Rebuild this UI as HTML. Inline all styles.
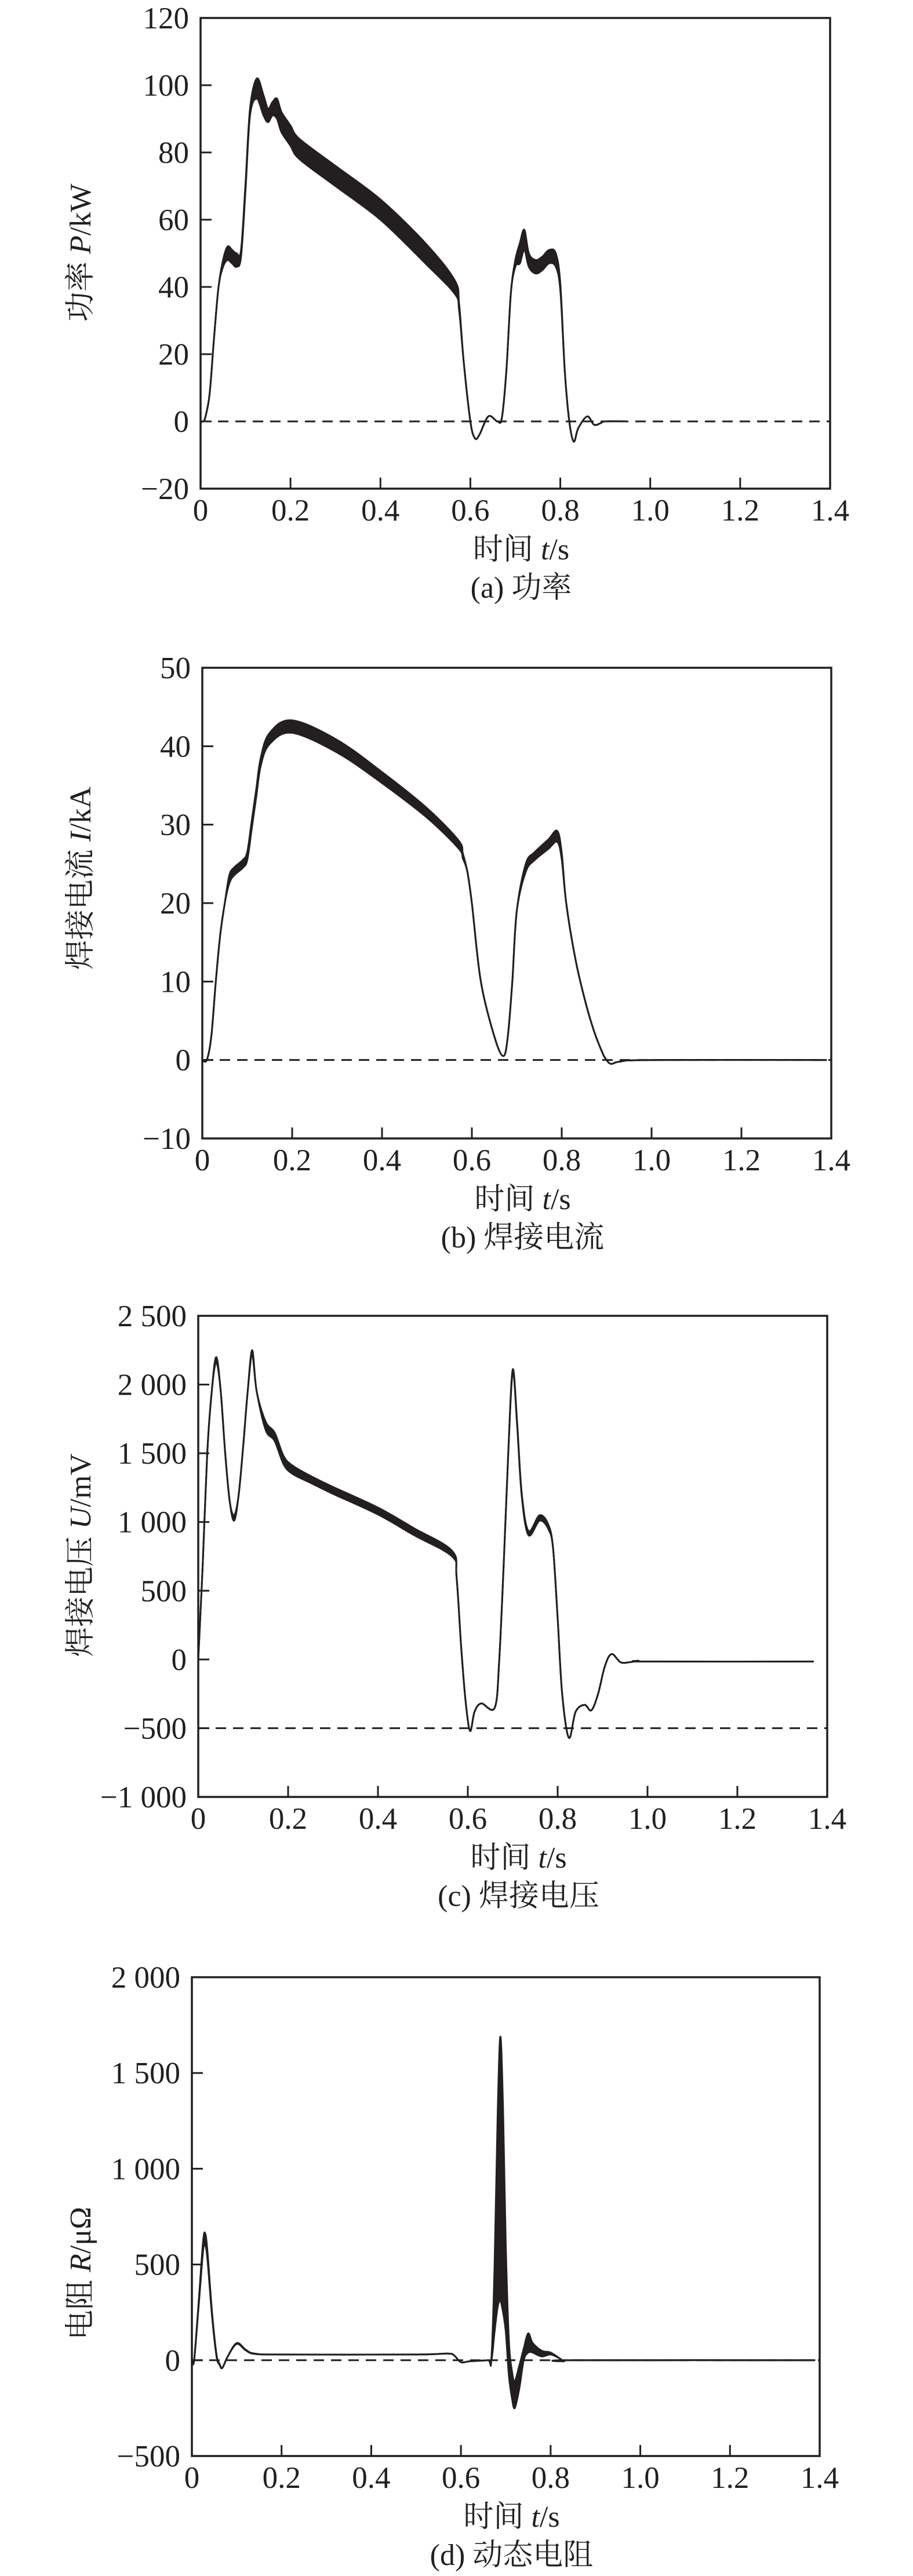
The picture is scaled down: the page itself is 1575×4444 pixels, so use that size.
<!DOCTYPE html>
<html><head><meta charset="utf-8"><style>
html,body{margin:0;padding:0;background:#fff;}
svg{display:block;}
text{fill:#231f20;font-family:"Liberation Serif","Noto Serif CJK SC",serif;}
</style></head><body>
<svg id="fig" width="1575" height="4444" viewBox="0 0 1575 4444" xmlns="http://www.w3.org/2000/svg"></svg>
<script>
// ---- Chart (a) power ----
const tA=[0,0.005,0.01,0.02,0.03,0.04,0.05,0.06,0.07,0.08,0.09,0.1,0.11,0.125,0.14,0.15,0.16,0.17,0.18,0.2,0.22,0.3,0.4,0.5,0.565,0.575,0.585,0.6,0.61,0.62,0.64,0.66,0.67,0.68,0.69,0.7,0.71,0.72,0.73,0.745,0.76,0.775,0.79,0.8,0.81,0.82,0.83,0.84,0.86,0.875,0.89,0.9,0.95];
const pA=[0,0,1,8,25,40,47,50,49,48,50,70,92,99,94,91,93,93,89,85,81,73,63,50,40,34,18,0,-5,-4,1.5,0,1,15,38,47,50,54,48,46,47,49,48,40,15,0,-6,-2,1.5,-1,-0.5,0,0];
const spreadA=[0,0,0,0,0,0,1,2,2,2,1,1,1,3,3,2,2,3,3,3,3,3,3,3,2,1,0,0,0,0,0,0,0,0,0,1,3,3,2,2,2,2,2,1,0,0,0,0,0,0,0,0,0];
const yTicksA=[-20,0,20,40,60,80,100,120];
const yLabelsA=["\u221220","0","20","40","60","80","100","120"];
// ---- Chart (b) current ----
const tB=[0,0.01,0.02,0.03,0.04,0.05,0.06,0.07,0.09,0.1,0.11,0.12,0.13,0.15,0.2,0.3,0.4,0.5,0.57,0.58,0.59,0.6,0.62,0.65,0.67,0.68,0.69,0.7,0.72,0.74,0.77,0.79,0.8,0.81,0.83,0.85,0.87,0.89,0.9,0.91,0.93,1.0,1.39];
const iB=[0,0,3,10,16,20,23,24,25,26,30,34,38,41,42.5,40,36,31.5,27.5,26,24,20,10,3,0.5,3,10,19,24.5,26,27.5,28.5,26,20,13,8,4,1,0,-0.5,-0.2,0,0];
const spreadB=[0,0,0,0,0,0,0.5,0.5,0.5,0.5,0.5,0.5,0.5,0.7,0.8,0.8,0.7,0.6,0.5,0.3,0,0,0,0,0,0,0,0,0.5,0.5,0.6,0.7,0.4,0,0,0,0,0,0,0,0,0,0];
const yTicksB=[-10,0,10,20,30,40,50];
const yLabelsB=["\u221210","0","10","20","30","40","50"];
// ---- Chart (c) voltage ----
const tC=[0,0.01,0.02,0.03,0.04,0.05,0.06,0.07,0.08,0.09,0.1,0.11,0.12,0.13,0.15,0.17,0.19,0.21,0.25,0.3,0.4,0.48,0.565,0.575,0.585,0.595,0.605,0.615,0.63,0.66,0.67,0.68,0.69,0.7,0.71,0.72,0.735,0.76,0.78,0.79,0.8,0.81,0.825,0.84,0.86,0.875,0.89,0.905,0.92,0.94,0.96,0.98,1.0,1.37];
const uC=[0,700,1500,1950,2180,1950,1500,1150,1030,1200,1550,1950,2230,1950,1700,1620,1450,1380,1310,1230,1080,930,770,600,100,-300,-520,-380,-320,-350,0,700,1500,2100,1700,1200,920,1030,960,800,300,-250,-570,-380,-330,-370,-250,-50,40,-20,-20,-10,-15,-15];
const spreadC=[0,0,0,0,20,0,0,0,20,0,0,0,20,0,30,30,30,30,25,25,25,25,20,0,0,0,0,0,0,0,0,0,0,10,10,10,15,20,15,0,0,0,0,0,0,0,0,0,0,0,0,0,0,0];
const yTicksC=[-1000,-500,0,500,1000,1500,2000,2500];
const yLabelsC=["\u22121 000","\u2212500","0","500","1 000","1 500","2 000","2 500"];
// ---- Chart (d) resistance ----
const tD=[0,0.005,0.015,0.025,0.03,0.035,0.045,0.055,0.062,0.068,0.08,0.1,0.12,0.14,0.2,0.5,0.57,0.585,0.6,0.62,0.66,0.668,0.675,0.682,0.688,0.694,0.7,0.707,0.714,0.72,0.73,0.74,0.75,0.76,0.78,0.8,0.82,0.83,0.85,1.39];
const hiD=[0,0,300,620,660,560,250,30,-20,-40,20,90,55,35,30,30,35,25,-10,-5,0,10,500,1300,1690,1300,600,100,-60,-110,-30,60,140,90,50,40,10,-5,0,0];
const loD=[0,0,280,570,600,520,230,20,-25,-40,20,85,52,33,30,30,35,25,-10,-5,0,0,150,280,310,250,150,-80,-200,-250,-150,0,40,40,20,30,10,-5,0,0];
const yTicksD=[-500,0,500,1000,1500,2000];
const yLabelsD=["\u2212500","0","500","1 000","1 500","2 000"];
const xTicks=[0,0.2,0.4,0.6,0.8,1.0,1.2,1.4];
const xLabels=["0","0.2","0.4","0.6","0.8","1.0","1.2","1.4"];

const NS="http://www.w3.org/2000/svg";
const svg=document.getElementById('fig');
function mk(tag,attrs,parent){const e=document.createElementNS(NS,tag);for(const k in attrs)e.setAttribute(k,attrs[k]);(parent||svg).appendChild(e);return e;}
function smooth(pts){let d="M"+pts[0][0].toFixed(1)+","+pts[0][1].toFixed(1);
 for(let i=0;i<pts.length-1;i++){const p0=pts[Math.max(0,i-1)],p1=pts[i],p2=pts[i+1],p3=pts[Math.min(pts.length-1,i+2)];
  const c1=[p1[0]+(p2[0]-p0[0])/6,p1[1]+(p2[1]-p0[1])/6],c2=[p2[0]-(p3[0]-p1[0])/6,p2[1]-(p3[1]-p1[1])/6];
  d+=" C"+c1[0].toFixed(1)+","+c1[1].toFixed(1)+" "+c2[0].toFixed(1)+","+c2[1].toFixed(1)+" "+p2[0].toFixed(1)+","+p2[1].toFixed(1);}
 return d;}
function chart(cfg){
 const g=mk('g',{});
 
 
 const X=v=>cfg.L+(v-0)/1.4*(cfg.R-cfg.L);
 const Y=v=>cfg.B-(v-cfg.ymin)/(cfg.ymax-cfg.ymin)*(cfg.B-cfg.T);
 const hi=cfg.t.map((t,i)=>[X(t),Y(cfg.hi[i])]);
 const lo=cfg.t.map((t,i)=>[X(t),Y(cfg.lo[i])]);
 const band=mk('path',{d:smooth(hi)+" L"+smooth(lo.slice().reverse()).slice(1)+" Z",fill:"#231f20",stroke:"none"},g);
 
 
 const l1=mk('path',{d:smooth(hi),fill:"none",stroke:"#231f20","stroke-width":3},g);
 
 
 const l2=mk('path',{d:smooth(lo),fill:"none",stroke:"#231f20","stroke-width":3},g);
 
 
 const dl=mk('line',{x1:cfg.L,x2:cfg.R,y1:Y(cfg.ref),y2:Y(cfg.ref),stroke:"#231f20","stroke-width":3,"stroke-dasharray":"18 12"},g);
 
 
 const fr=mk('rect',{x:cfg.L,y:cfg.T,width:cfg.R-cfg.L,height:cfg.B-cfg.T,fill:"none",stroke:"#231f20","stroke-width":3.5},g);
 
 
 xTicks.forEach((v,i)=>{
  const tk=mk('line',{x1:X(v),x2:X(v),y1:cfg.B,y2:cfg.B-19,stroke:"#231f20","stroke-width":3},g);
  
  
  const tx=mk('text',{x:X(v),y:cfg.B+55,"text-anchor":"middle","font-size":53},g);
  tx.textContent=xLabels[i];
  
  
 });
 cfg.yt.forEach((v,i)=>{
  const tk=mk('line',{x1:cfg.L,x2:cfg.L+19,y1:Y(v),y2:Y(v),stroke:"#231f20","stroke-width":3},g);
  
  
  const tx=mk('text',{x:cfg.L-20,y:Y(v)+18,"text-anchor":"end","font-size":53},g);
  tx.textContent=cfg.yl[i];
  
  
 });
 const xt=mk('text',{x:(cfg.L+cfg.R)/2+10,y:cfg.B+122,"text-anchor":"middle","font-size":52},g);
 xt.innerHTML='时间 <tspan font-style="italic">t</tspan>/s';
 
 
 const cp=mk('text',{x:(cfg.L+cfg.R)/2+10,y:cfg.B+188,"text-anchor":"middle","font-size":52},g);
 cp.textContent=cfg.caption;
 
 
 const yt=mk('text',{x:0,y:0,"text-anchor":"middle","font-size":52,transform:"translate(156,"+cfg.ty+") rotate(-90)"},g);
 yt.innerHTML=cfg.ytitle;
 
 
}
chart({name:'chart-power',L:346,R:1432,T:31,B:843,ymin:-20,ymax:120,t:tA,hi:pA.map((v,i)=>v+spreadA[i]),lo:pA.map((v,i)=>v-spreadA[i]),ref:0,yt:yTicksA,yl:yLabelsA,caption:'(a) 功率',ty:436,ytitle:'功率 <tspan font-style="italic">P</tspan>/kW'});
chart({name:'chart-current',L:349,R:1434,T:1152,B:1964,ymin:-10,ymax:50,t:tB,hi:iB.map((v,i)=>v+spreadB[i]),lo:iB.map((v,i)=>v-spreadB[i]),ref:0,yt:yTicksB,yl:yLabelsB,caption:'(b) 焊接电流',ty:1515,ytitle:'焊接电流 <tspan font-style="italic">I</tspan>/kA'});
chart({name:'chart-voltage',L:342,R:1427,T:2270,B:3100,ymin:-1000,ymax:2500,t:tC,hi:uC.map((v,i)=>v+spreadC[i]),lo:uC.map((v,i)=>v-spreadC[i]),ref:-500,yt:yTicksC,yl:yLabelsC,caption:'(c) 焊接电压',ty:2683,ytitle:'焊接电压 <tspan font-style="italic">U</tspan>/mV'});
chart({name:'chart-resistance',L:331,R:1414,T:3411,B:4237,ymin:-500,ymax:2000,t:tD,hi:hiD,lo:loD,ref:0,yt:yTicksD,yl:yLabelsD,caption:'(d) 动态电阻',ty:3922,ytitle:'电阻 <tspan font-style="italic">R</tspan>/μΩ'});
</script>
</body></html>
